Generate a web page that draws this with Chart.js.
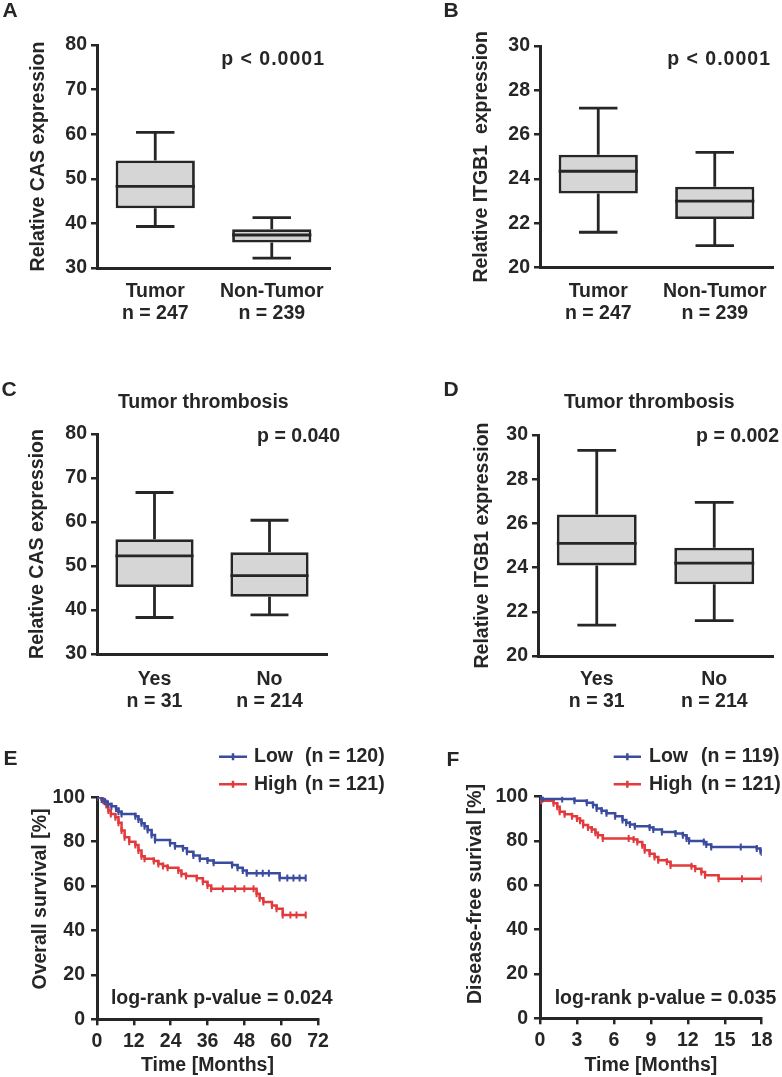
<!DOCTYPE html>
<html>
<head>
<meta charset="utf-8">
<title>CAS / ITGB1 expression and survival</title>
<script src="https://cdn.jsdelivr.net/npm/chart.js@4.4.1/dist/chart.umd.min.js"></script>
<style>
  body { margin: 0; background: #fff; }
  #wrap { position: relative; width: 782px; height: 1077px; overflow: hidden; }
  #wrap canvas { position: absolute; }
</style>
</head>
<body>
<div id="wrap">
  <canvas id="panelA" width="391" height="330" style="left:0;top:0;width:391px;height:330px"></canvas>
  <canvas id="panelB" width="391" height="330" style="left:391px;top:0;width:391px;height:330px"></canvas>
  <canvas id="panelC" width="391" height="380" style="left:0;top:330px;width:391px;height:380px"></canvas>
  <canvas id="panelD" width="391" height="380" style="left:391px;top:330px;width:391px;height:380px"></canvas>
  <canvas id="panelE" width="391" height="377" style="left:0;top:700px;width:391px;height:377px"></canvas>
  <canvas id="panelF" width="391" height="377" style="left:391px;top:700px;width:391px;height:377px"></canvas>
</div>
<script>
// ---- data ----
// A / B : tumour vs non-tumour tissue
const tissueGroups = ['Tumor', 'Non-Tumor'];
const tissueCounts = [247, 239];
// box stats per group: [lower whisker, q1, median, q3, upper whisker]
const casTissueStats = [[39.3, 43.4, 48.3, 54.1, 60.4], [32.2, 35.7, 37.4, 38.7, 41.3]];
const itgb1TissueStats = [[21.6, 23.35, 24.35, 25.1, 27.2], [21.0, 22.2, 23.0, 23.65, 25.2]];

// C / D : tumour thrombosis
const thrombosisGroups = ['Yes', 'No'];
const thrombosisCounts = [31, 214];
const casThrombosisStats = [[38.3, 45.2, 52.3, 56.1, 66.7], [38.9, 43.0, 47.8, 53.1, 60.4]];
const itgb1ThrombosisStats = [[21.4, 24.1, 25.1, 26.4, 29.3], [21.6, 23.25, 24.2, 24.9, 26.95]];

// E : overall survival (Kaplan-Meier steps, months / %)
const osLowMonths = [0, 1.5, 2.5, 3.5, 4.7, 6.2, 7, 8, 12.5, 13.5, 14.5, 15.5, 16.5, 17.8, 18.9, 23.8, 25.4, 28, 29.3, 31.4, 33.5, 36, 38, 44, 45.8, 47.5, 48.8, 52, 54, 56, 59.5, 62, 64, 66, 68];
const osLowPct = [100, 99, 98, 97, 96, 95, 93.5, 92.5, 91.5, 90, 88.3, 87, 85.3, 83, 80.8, 79.3, 78, 77, 75.5, 73.8, 72.3, 71.5, 70.5, 69.5, 68.3, 67, 65.8, 65.8, 65.8, 65.8, 63.7, 63.7, 63.7, 63.7, 63.7];
const osHighMonths = [0, 2, 3, 3.7, 4.5, 6, 7, 8, 9, 10.5, 12.5, 13.5, 14.5, 15.5, 18.5, 20, 21.5, 23, 26.5, 27.5, 29, 32.5, 34.5, 36, 37.2, 41, 45, 48, 51, 52, 53, 54.2, 57, 58.5, 60.5, 63, 65, 68];
const osHighPct = [100, 98.5, 96.5, 94, 92.5, 91, 88.5, 85, 82, 80, 78.5, 76, 73.5, 72.3, 71.3, 70, 69, 68.3, 67, 65.5, 64.5, 63.5, 62, 60.3, 58.8, 58.8, 58.8, 58.8, 58.8, 56.5, 54.5, 52.8, 51.3, 49.8, 47, 47, 47, 47];
const osCounts = [120, 121];

// F : disease-free survival
const dfsLowMonths = [0, 0.2, 1.8, 2.8, 3.8, 4.3, 4.6, 5, 5.4, 6.1, 6.7, 7, 7.3, 7.7, 8.9, 9.2, 9.9, 11, 11.6, 11.9, 12.1, 13.3, 13.5, 13.9, 16.3, 17.6, 17.9, 18];
const dfsLowPct = [100, 99, 99, 98.2, 97.3, 96.2, 94.7, 93.7, 92.5, 91.2, 89.5, 88.2, 87.5, 86.7, 86.1, 85.2, 84.1, 83.4, 82.6, 81.1, 80, 79.6, 78.4, 77.3, 77.3, 76.6, 75.5, 74.8];
const dfsHighMonths = [0, 0.1, 1.1, 1.4, 1.6, 2, 2.6, 3, 3.25, 3.5, 3.9, 4.2, 4.5, 4.7, 5.1, 7.2, 7.6, 7.9, 8.3, 8.5, 8.9, 9.3, 9.6, 10.3, 10.6, 12.3, 12.6, 13.1, 13.4, 14.5, 16.4, 18];
const dfsHighPct = [100, 98.2, 97, 95.5, 93.2, 92.1, 91.2, 90.2, 89.1, 87.2, 86.1, 85.2, 83.7, 82.6, 81.1, 81.1, 80.7, 79.6, 78.1, 75.8, 74.3, 72.8, 71.3, 70.6, 69, 68.6, 67.5, 66, 64.5, 63, 63, 63];
const dfsCounts = [119, 121];

const survivalLabels = ['Low', 'High'];

// ---- look ----
const FONT = "'Liberation Sans', Arial, Helvetica, sans-serif";
const INK = '#262626';
const BOX_FILL = '#d6d6d6';
const BLUE = '#3b4c9f';
const RED = '#e23a3d';
const FS = 19.5;

Chart.defaults.font.family = FONT;
Chart.defaults.font.weight = 'bold';
Chart.defaults.font.size = FS;
Chart.defaults.color = INK;
Chart.defaults.animation = false;

const axisBorder = { color: INK, width: 3 };
const tickGrid = { drawOnChartArea: false, tickLength: 6, color: INK, lineWidth: 2.5 };

// whiskers, caps and median lines for the box charts
const boxWhiskers = {
    id: 'boxWhiskers',
    afterDatasetsDraw(chart, args, opts) {
        const stats = opts.stats;
        if (!stats) return;
        const xs = chart.scales.x, ys = chart.scales.y, ctx = chart.ctx;
        const bars = chart.getDatasetMeta(0).data;
        const capHalf = xs.width / stats.length * 0.33 / 2;
        ctx.save();
        ctx.strokeStyle = INK;
        ctx.lineWidth = 2.8;
        stats.forEach((s, i) => {
            const cx = xs.getPixelForValue(i);
            const half = bars[i].width / 2;
            const lo = ys.getPixelForValue(s[0]), q1 = ys.getPixelForValue(s[1]);
            const md = ys.getPixelForValue(s[2]), q3 = ys.getPixelForValue(s[3]);
            const hi = ys.getPixelForValue(s[4]);
            ctx.beginPath();
            ctx.moveTo(cx, lo); ctx.lineTo(cx, q1);
            ctx.moveTo(cx, q3); ctx.lineTo(cx, hi);
            ctx.moveTo(cx - capHalf, lo); ctx.lineTo(cx + capHalf, lo);
            ctx.moveTo(cx - capHalf, hi); ctx.lineTo(cx + capHalf, hi);
            ctx.moveTo(cx - half, md); ctx.lineTo(cx + half, md);
            ctx.stroke();
        });
        ctx.restore();
    }
};

// free text: panel letters, titles, p-values
const textLayer = {
    id: 'textLayer',
    afterDraw(chart, args, opts) {
        const ctx = chart.ctx;
        (opts.items || []).forEach(it => {
            ctx.save();
            ctx.font = `bold ${it.size || FS}px ${FONT}`;
            ctx.fillStyle = INK;
            ctx.textAlign = it.align || 'center';
            ctx.textBaseline = 'middle';
            if (it.spacing) ctx.letterSpacing = it.spacing + 'px';
            ctx.translate(it.x, it.y);
            if (it.rot) ctx.rotate(it.rot);
            ctx.fillText(it.text, 0, 0);
            ctx.restore();
        });
    }
};

// two-row legend in the upper right of the survival panels
const kmLegend = {
    id: 'kmLegend',
    afterDraw(chart, args, opts) {
        if (!opts.rows) return;
        const ctx = chart.ctx;
        ctx.save();
        ctx.font = `bold ${FS}px ${FONT}`;
        ctx.textBaseline = 'middle';
        ctx.textAlign = 'left';
        chart.data.datasets.forEach((ds, i) => {
            const y = opts.rows[i];
            const mid = (opts.x0 + opts.x1) / 2;
            ctx.strokeStyle = ds.borderColor;
            ctx.lineWidth = 2.5;
            ctx.beginPath();
            ctx.moveTo(opts.x0, y); ctx.lineTo(opts.x1, y);
            ctx.moveTo(mid, y - 3.5); ctx.lineTo(mid, y + 3.5);
            ctx.stroke();
            ctx.fillStyle = INK;
            ctx.fillText(ds.label, opts.xText, y);
            ctx.fillText('(n = ' + opts.counts[i] + ')', opts.xCount, y);
        });
        ctx.restore();
    }
};

function drawBoxPanel(id, groups, counts, stats, yRange, yTitle, box) {
    const ctx = document.getElementById(id).getContext('2d');
    return new Chart(ctx, {
        type: 'bar',
        data: {
            labels: groups.map((g, i) => [g, 'n = ' + counts[i]]),
            datasets: [{
                data: stats.map(s => [s[1], s[3]]),
                backgroundColor: BOX_FILL,
                borderColor: INK,
                borderWidth: 2.8,
                borderSkipped: false,
                barPercentage: 0.68,
                categoryPercentage: 1
            }]
        },
        options: {
            responsive: false,
            animation: false,
            events: [],
            layout: { padding: { left: 0, right: box.right, top: box.top, bottom: 0 } },
            plugins: {
                legend: { display: false },
                tooltip: { enabled: false },
                boxWhiskers: { stats: stats },
                textLayer: { items: box.texts }
            },
            scales: {
                x: {
                    offset: true,
                    grid: { display: false },
                    border: axisBorder,
                    ticks: { color: INK, font: { size: FS, weight: 'bold', lineHeight: 1.13 }, padding: box.labelPad, maxRotation: 0, autoSkip: false },
                    afterFit: s => { s.height = box.xHeight; }
                },
                y: {
                    min: yRange[0],
                    max: yRange[1],
                    grid: tickGrid,
                    border: axisBorder,
                    ticks: { stepSize: yRange[2], padding: 4, color: INK },
                    title: { display: true, text: yTitle, color: INK, font: { size: FS, weight: 'bold', lineHeight: 1.2 }, padding: { top: box.titlePad, bottom: 0 } },
                    afterFit: s => { s.width = box.yWidth; }
                }
            }
        },
        plugins: [boxWhiskers, textLayer]
    });
}

function drawSurvivalPanel(id, series, xRange, counts, box) {
    const ctx = document.getElementById(id).getContext('2d');
    return new Chart(ctx, {
        type: 'line',
        data: {
            datasets: series.map(s => ({
                label: s.label,
                data: s.months.map((m, i) => ({ x: m, y: s.pct[i] })),
                borderColor: s.color,
                borderWidth: 2.5,
                stepped: true,
                fill: false,
                pointStyle: 'line',
                pointRotation: 90,
                pointRadius: 3.5,
                pointBorderWidth: 2,
                pointBorderColor: s.color,
                pointBackgroundColor: s.color
            }))
        },
        options: {
            responsive: false,
            animation: false,
            events: [],
            layout: { padding: { left: 0, right: box.right, top: box.top, bottom: 0 } },
            plugins: {
                legend: { display: false },
                tooltip: { enabled: false },
                kmLegend: { rows: box.legendRows, x0: box.legendX[0], x1: box.legendX[1], xText: box.legendX[2], xCount: box.legendX[3], counts: counts },
                textLayer: { items: box.texts }
            },
            scales: {
                x: {
                    type: 'linear',
                    min: xRange[0],
                    max: xRange[1],
                    grid: tickGrid,
                    border: axisBorder,
                    ticks: { stepSize: xRange[2], padding: 5, color: INK, maxRotation: 0 },
                    title: { display: true, text: 'Time [Months]', color: INK, font: { size: FS, weight: 'bold', lineHeight: 1.2 }, padding: { top: 0, bottom: 0 } },
                    afterFit: s => { s.height = box.xHeight; }
                },
                y: {
                    min: 0,
                    max: 100,
                    grid: tickGrid,
                    border: axisBorder,
                    ticks: { stepSize: 20, padding: 6, color: INK },
                    afterFit: s => { s.width = box.yWidth; }
                }
            }
        },
        plugins: [kmLegend, textLayer]
    });
}

const UP = -Math.PI / 2;

// A
drawBoxPanel('panelA', tissueGroups, tissueCounts, casTissueStats, [30, 80, 10], 'Relative CAS expression', {
    yWidth: 97, right: 61, top: 45, xHeight: 62, labelPad: 5, titlePad: 27,
    texts: [
        { text: 'A', x: 10, y: 11.5, size: 21 },
        { text: 'p < 0.0001', x: 325, y: 59.5, align: 'right', spacing: 1 }
    ]
});

// B
drawBoxPanel('panelB', tissueGroups, tissueCounts, itgb1TissueStats, [20, 30, 2], 'Relative ITGB1  expression', {
    yWidth: 149, right: 9, top: 46, xHeight: 62.3, labelPad: 5, titlePad: 79,
    texts: [
        { text: 'B', x: 60, y: 11.5, size: 21 },
        { text: 'p < 0.0001', x: 380, y: 59.5, align: 'right', spacing: 1 }
    ]
});

// C
drawBoxPanel('panelC', thrombosisGroups, thrombosisCounts, casThrombosisStats, [30, 80, 10], 'Relative CAS expression', {
    yWidth: 97, right: 64, top: 104, xHeight: 56, labelPad: 7, titlePad: 26,
    texts: [
        { text: 'C', x: 9, y: 60.5, size: 21 },
        { text: 'Tumor thrombosis', x: 203.3, y: 72.5 },
        { text: 'p = 0.040', x: 340, y: 106.7, align: 'right' }
    ]
});

// D
drawBoxPanel('panelD', thrombosisGroups, thrombosisCounts, itgb1ThrombosisStats, [20, 30, 2], 'Relative ITGB1 expression', {
    yWidth: 147, right: 9, top: 105, xHeight: 54, labelPad: 5, titlePad: 80,
    texts: [
        { text: 'D', x: 60, y: 60.5, size: 21 },
        { text: 'Tumor thrombosis', x: 258.3, y: 72.5 },
        { text: 'p = 0.002', x: 388, y: 107, align: 'right' }
    ]
});

// E
drawSurvivalPanel('panelE', [
    { label: survivalLabels[0], months: osLowMonths, pct: osLowPct, color: BLUE },
    { label: survivalLabels[1], months: osHighMonths, pct: osHighPct, color: RED }
], [0, 72, 12], osCounts, {
    yWidth: 97, right: 73, top: 97.3, xHeight: 57.7,
    legendRows: [56.7, 84.3], legendX: [219, 247, 254, 305],
    texts: [
        { text: 'E', x: 10.5, y: 59, size: 21 },
        { text: 'Overall survival [%]', x: 40.8, y: 199, rot: UP },
        { text: 'log-rank p-value = 0.024', x: 221.7, y: 298.5 }
    ]
});

// F
drawSurvivalPanel('panelF', [
    { label: survivalLabels[0], months: dfsLowMonths, pct: dfsLowPct, color: BLUE },
    { label: survivalLabels[1], months: dfsHighMonths, pct: dfsHighPct, color: RED }
], [0, 18, 3], dfsCounts, {
    yWidth: 149, right: 20.3, top: 96.7, xHeight: 58.7,
    legendRows: [56.7, 84.3], legendX: [222.7, 250, 258, 310],
    texts: [
        { text: 'F', x: 62, y: 60.5, size: 21 },
        { text: 'Disease-free surival [%]', x: 84.2, y: 194, rot: UP },
        { text: 'log-rank p-value = 0.035', x: 274.5, y: 298.5 }
    ]
});
</script>
</body>
</html>
